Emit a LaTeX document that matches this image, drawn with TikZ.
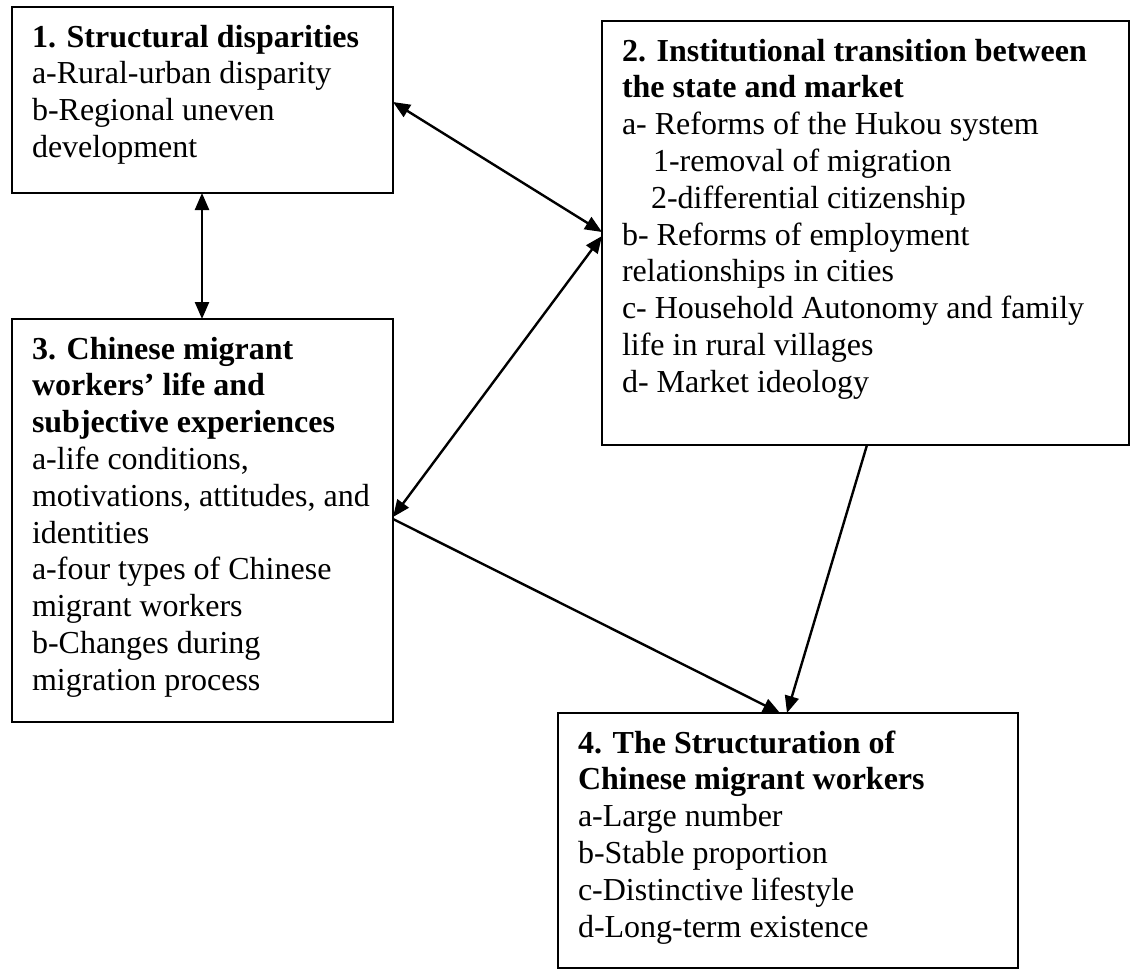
\documentclass[tikz,border=0pt]{standalone}
\usepackage{fontspec}
\setmainfont{Liberation Serif}
\usetikzlibrary{arrows.meta,calc}
\newcommand\bxtext[3]{\parbox[t][#2][t]{#1}{\raggedright\leftskip=20bp\relax\rule{0pt}{40bp}#3}}
\begin{document}
\begin{tikzpicture}[x=1bp,y=-1bp,
  box/.style={draw, line width=1.8bp, anchor=north west, inner sep=0pt, outer sep=0pt,
    font=\fontsize{32bp}{36.8bp}\selectfont},
  conn/.style={line width=2.4bp, -{Triangle[length=17bp,width=14bp]}},
  conntwo/.style={line width=2.4bp, {Triangle[length=17bp,width=14bp]}-{Triangle[length=17bp,width=14bp]}}]
\useasboundingbox (0,0) rectangle (1131,971);
\fill[white] (0,0) rectangle (1131,971);
\node[box] (b1) at (12,7) {\bxtext{381bp}{186bp}{\textbf{1. Structural disparities}\\
a-Rural-urban disparity\\
b-Regional uneven\\
development}};
\node[box] (b2) at (602,21) {\bxtext{527bp}{424bp}{\textbf{2. Institutional transition between}\\
\textbf{the state and market}\\
a- Reforms of the Hukou system\\
\hspace*{31bp}1-removal of migration\\
\hspace*{29bp}2-differential citizenship\\
b- Reforms of employment\\
relationships in cities\\
c- Household Autonomy and family\\
life in rural villages\\
d- Market ideology}};
\node[box] (b3) at (12,319) {\bxtext{381bp}{403bp}{\textbf{3. Chinese migrant}\\
\textbf{workers’ life and}\\
\textbf{subjective experiences}\\
a-life conditions,\\
motivations, attitudes, and\\
identities\\
a-four types of Chinese\\
migrant workers\\
b-Changes during\\
migration process}};
\node[box] (b4) at (558,713) {\bxtext{460bp}{255bp}{\textbf{4. The Structuration of}\\
\textbf{Chinese migrant workers}\\
a-Large number\\
b-Stable proportion\\
c-Distinctive lifestyle\\
d-Long-term existence}};
\draw[conntwo] ($(b1.north east)+(0,95)$) -- ($(b2.north west)+(0,211)$);
\draw[conntwo] ($(b1.south west)+(190,0)$) -- ($(b3.north west)+(190,0)$);
\draw[conntwo] ($(b3.north east)+(0,198)$) -- ($(b2.north west)+(0,215)$);
\draw[conn] ($(b3.north east)+(0,200)$) -- ($(b4.north west)+(222,0)$);
\draw[conn] ($(b2.south west)+(265,0)$) -- ($(b4.north west)+(229,0)$);
\end{tikzpicture}
\end{document}
